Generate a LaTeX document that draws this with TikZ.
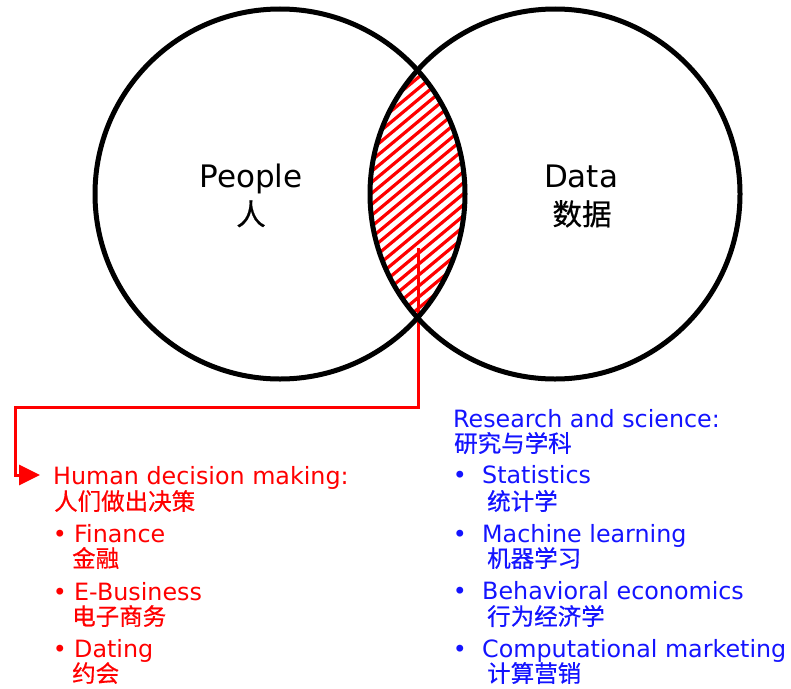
\documentclass[tikz,border=0pt]{standalone}
\usepackage{fontspec}
\setmainfont{DejaVu Sans}
\newfontfamily\cjk[FakeBold=0.6]{Noto Sans CJK SC}
\usetikzlibrary{arrows.meta}
\definecolor{hatchred}{RGB}{255,0,0}
\definecolor{listblue}{RGB}{20,20,255}

\begin{document}
\begin{tikzpicture}[x=1pt,y=-1pt,
  ring/.style={draw=black, line width=5pt},
  stripe/.style={draw=hatchred, line width=3.2pt},
  conn/.style={draw=hatchred, line width=3pt, -{Triangle[length=21pt,width=20pt]}},
  title/.style={font=\fontsize{31}{36}\selectfont, anchor=base, inner sep=0pt},
  titlezh/.style={font=\fontsize{29.5}{36}\selectfont\cjk, anchor=base, inner sep=0pt},
  item/.style={font=\fontsize{23.8}{28}\selectfont, anchor=base west, inner sep=0pt},
  itemzh/.style={font=\fontsize{23.5}{28}\selectfont\cjk, anchor=base west, inner sep=0pt},
  dot/.style={font=\fontsize{23.8}{28}\selectfont, anchor=base, inner sep=0pt},
]
\useasboundingbox (0,0) rectangle (791,688);

% circle centres
\coordinate (cP) at (280,194);
\coordinate (cD) at (555,194);

% hatched overlap of the two sets
\begin{scope}
  \clip (cP) circle[radius=185pt];
  \clip (cD) circle[radius=185pt];
  \foreach \c in {30,41,...,480}
    \draw[stripe] (330,\c) -- (510,\c-150);
\end{scope}

% connector from the overlap to the decision list
\coordinate (lensPt) at (418,248);
\coordinate (elbow) at (15,407);
\coordinate (tip) at (40,475);
\draw[conn] (lensPt) |- (elbow) |- (tip);

% the two sets
\draw[ring] (cP) circle[radius=185pt];
\draw[ring] (cD) circle[radius=185pt];

% set labels
\node[title] (peopleEn) at (251,187) {People};
\node[titlezh] (peopleZh) at (251,225) {人};
\node[title] (dataEn) at (581,187) {Data};
\node[titlezh] (dataZh) at (582,225) {数据};

% left list: human decision making
\begin{scope}[text=hatchred]
  \node[item] (hdm) at (53,484) {Human decision making:};
  \node[itemzh] (hdmZh) at (54,510) {人们做出决策};
  \node[dot] (b1) at (60,542) {•};
  \node[item] (fin) at (74,542) {Finance};
  \node[itemzh] (finZh) at (72,567) {金融};
  \node[dot] (b2) at (60,600) {•};
  \node[item] (ebiz) at (74,600) {E-Business};
  \node[itemzh] (ebizZh) at (72,625) {电子商务};
  \node[dot] (b3) at (60,657) {•};
  \node[item] (dat) at (74,657) {Dating};
  \node[itemzh] (datZh) at (72,682) {约会};
\end{scope}

% right list: research and science
\begin{scope}[text=listblue]
  \node[item] (res) at (453,427) {Research and science:};
  \node[itemzh] (resZh) at (454,452) {研究与学科};
  \node[dot] (r1) at (460,483) {•};
  \node[item] (stat) at (482,483) {Statistics};
  \node[itemzh] (statZh) at (487,510) {统计学};
  \node[dot] (r2) at (460,542) {•};
  \node[item] (ml) at (482,542) {Machine learning};
  \node[itemzh] (mlZh) at (487,567) {机器学习};
  \node[dot] (r3) at (460,599) {•};
  \node[item] (be) at (482,599) {Behavioral economics};
  \node[itemzh] (beZh) at (487,625) {行为经济学};
  \node[dot] (r4) at (460,657) {•};
  \node[item] (cm) at (482,657) {Computational marketing};
  \node[itemzh] (cmZh) at (487,682) {计算营销};
\end{scope}
\end{tikzpicture}
\end{document}
